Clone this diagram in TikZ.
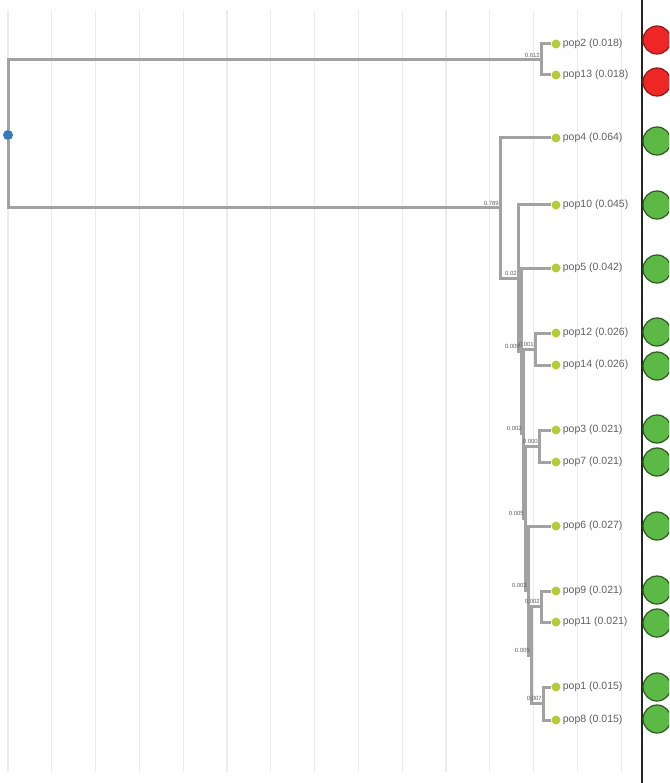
\documentclass[tikz,border=0pt]{standalone}
\usepackage{fontspec}
\setmainfont{Liberation Sans}
\definecolor{treegray}{HTML}{A2A2A2}
\definecolor{gridgray}{HTML}{ECECEC}
\definecolor{labelgray}{HTML}{606060}
\definecolor{leafgreen}{HTML}{B5CC38}
\definecolor{rootblue}{HTML}{3A78B8}
\definecolor{popgreen}{HTML}{5DB946}
\definecolor{popgreenline}{HTML}{2C5A1F}
\definecolor{popred}{HTML}{EE2626}
\definecolor{popredline}{HTML}{8E1B1B}
\begin{document}
\begin{tikzpicture}[x=1pt, y=-1pt,
  branch/.style={draw=treegray, line width=3pt},
  gridline/.style={draw=gridgray, line width=1.2pt},
  leaf/.style={shape=circle, fill=leafgreen, inner sep=0pt, minimum size=9pt},
  poplabel/.style={text=labelgray, font=\fontsize{10.5}{12}\selectfont, inner sep=2pt},
  blabel/.style={text=labelgray, font=\fontsize{6}{7}\selectfont, inner sep=1pt, above left, yshift=1.5pt},
  popcircle/.style={shape=circle, minimum size=28pt, inner sep=0pt, line width=1.2pt}]
\useasboundingbox (0,0) rectangle (669,783);
\clip (0,0) rectangle (669,783);
% grid
\foreach \k in {0,...,14}
  \draw[gridline] ({8+43.8*\k},10) -- ({8+43.8*\k},772);
% internal nodes
\node[shape=circle, fill=rootblue, inner sep=0pt, minimum size=10pt] (root) at (8,135) {};
\coordinate (T) at (541,60);
\coordinate (A) at (500,208);
\coordinate (B) at (518,278);
\coordinate (C) at (521,351);
\coordinate (D) at (523,433.5);
\coordinate (E) at (535,349);
\coordinate (F) at (525,518);
\coordinate (G) at (539,446);
\coordinate (H) at (528,590.5);
\coordinate (I) at (531,655);
\coordinate (J) at (541,606.5);
\coordinate (K) at (543,703.5);
% leaves
\node[leaf, label={[poplabel]right:pop2 (0.018)}] (p2) at (556,44) {};
\node[leaf, label={[poplabel]right:pop13 (0.018)}] (p13) at (556,75) {};
\node[leaf, label={[poplabel]right:pop4 (0.064)}] (p4) at (556,138) {};
\node[leaf, label={[poplabel]right:pop10 (0.045)}] (p10) at (556,205) {};
\node[leaf, label={[poplabel]right:pop5 (0.042)}] (p5) at (556,268) {};
\node[leaf, label={[poplabel]right:pop12 (0.026)}] (p12) at (556,333) {};
\node[leaf, label={[poplabel]right:pop14 (0.026)}] (p14) at (556,365) {};
\node[leaf, label={[poplabel]right:pop3 (0.021)}] (p3) at (556,430) {};
\node[leaf, label={[poplabel]right:pop7 (0.021)}] (p7) at (556,462) {};
\node[leaf, label={[poplabel]right:pop6 (0.027)}] (p6) at (556,526) {};
\node[leaf, label={[poplabel]right:pop9 (0.021)}] (p9) at (556,591) {};
\node[leaf, label={[poplabel]right:pop11 (0.021)}] (p11) at (556,622) {};
\node[leaf, label={[poplabel]right:pop1 (0.015)}] (p1) at (556,687) {};
\node[leaf, label={[poplabel]right:pop8 (0.015)}] (p8) at (556,720) {};
% branches
\draw[branch] (root) |- (T);
\draw[branch] (root) |- (A);
\draw[branch] (T) |- (p2);
\draw[branch] (T) |- (p13);
\draw[branch] (A) |- (p4);
\draw[branch] (A) |- (B);
\draw[branch] (B) |- (p10);
\draw[branch] (B) |- (C);
\draw[branch] (C) |- (p5);
\draw[branch] (C) |- (D);
\draw[branch] (D) |- (E);
\draw[branch] (D) |- (F);
\draw[branch] (E) |- (p12);
\draw[branch] (E) |- (p14);
\draw[branch] (F) |- (G);
\draw[branch] (F) |- (H);
\draw[branch] (G) |- (p3);
\draw[branch] (G) |- (p7);
\draw[branch] (H) |- (p6);
\draw[branch] (H) |- (I);
\draw[branch] (I) |- (J);
\draw[branch] (I) |- (K);
\draw[branch] (J) |- (p9);
\draw[branch] (J) |- (p11);
\draw[branch] (K) |- (p1);
\draw[branch] (K) |- (p8);
% branch lengths
\node[blabel] at (T) {0.612};
\node[blabel] at (A) {0.789};
\node[blabel] at (B) {0.02};
\node[blabel] at (C) {0.009};
\node[blabel] at (E) {0.001};
\node[blabel] at (D) {0.002};
\node[blabel] at (G) {0.000};
\node[blabel] at (F) {0.005};
\node[blabel] at (H) {0.003};
\node[blabel] at (J) {0.002};
\node[blabel] at (I) {0.005};
\node[blabel] at (K) {0.007};
% separator and groups
\draw[black!85, line width=1.3pt] (642,0) -- (642,783);
\node[popcircle, fill=popred, draw=popredline] (c2) at (657,40) {};
\node[popcircle, fill=popred, draw=popredline] (c13) at (657,82) {};
\node[popcircle, fill=popgreen, draw=popgreenline] (c4) at (657,141) {};
\node[popcircle, fill=popgreen, draw=popgreenline] (c10) at (657,205) {};
\node[popcircle, fill=popgreen, draw=popgreenline] (c5) at (657,269) {};
\node[popcircle, fill=popgreen, draw=popgreenline] (c12) at (657,332) {};
\node[popcircle, fill=popgreen, draw=popgreenline] (c14) at (657,366) {};
\node[popcircle, fill=popgreen, draw=popgreenline] (c3) at (657,429) {};
\node[popcircle, fill=popgreen, draw=popgreenline] (c7) at (657,462) {};
\node[popcircle, fill=popgreen, draw=popgreenline] (c6) at (657,526) {};
\node[popcircle, fill=popgreen, draw=popgreenline] (c9) at (657,590) {};
\node[popcircle, fill=popgreen, draw=popgreenline] (c11) at (657,623) {};
\node[popcircle, fill=popgreen, draw=popgreenline] (c1) at (657,687) {};
\node[popcircle, fill=popgreen, draw=popgreenline] (c8) at (657,719) {};
\end{tikzpicture}
\end{document}
